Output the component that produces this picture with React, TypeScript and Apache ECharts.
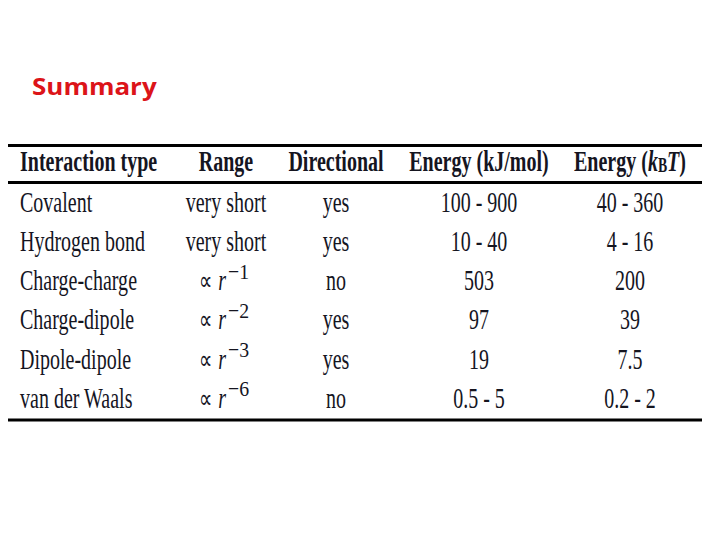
import React, { useEffect, useRef } from "react";
import * as echarts from "echarts";

const title = "Summary";
const headers = ["Interaction type", "Range", "Directional", "Energy (kJ/mol)", "Energy (kBT)"];
const interactionTypes = ["Covalent", "Hydrogen bond", "Charge-charge", "Charge-dipole", "Dipole-dipole", "van der Waals"];
const ranges = ["very short", "very short", "r^\u22121", "r^\u22122", "r^\u22123", "r^\u22126"];
const directional = ["yes", "yes", "no", "yes", "yes", "no"];
const energyKJ = ["100 - 900", "10 - 40", "503", "97", "19", "0.5 - 5"];
const energyKBT = ["40 - 360", "4 - 16", "200", "39", "7.5", "0.2 - 2"];

const TEXT = "#15151f";
const SERIF = "'Liberation Serif', 'DejaVu Serif', serif";
const FS = 29;
const SX = 0.69;
const COL_X = [20, 226, 336, 479, 630];
const HEADER_Y = 161.5;
const ROW_Y0 = 202;
const ROW_DY = 39.2;
const LINE_X1 = 8;
const LINE_X2 = 702;

function txt(x: number, y: number, text: string, opts: any = {}) {
  const align = opts.align || "center";
  return {
    type: "text",
    x,
    y,
    scaleX: opts.scaleX ?? SX,
    style: {
      text,
      fill: opts.fill || TEXT,
      fontFamily: opts.fontFamily || SERIF,
      fontSize: opts.fontSize || FS,
      fontWeight: opts.fontWeight || "normal",
      fontStyle: opts.fontStyle || "normal",
      textAlign: align,
      align,
      textVerticalAlign: "middle",
      verticalAlign: "middle",
      rich: opts.rich,
    },
  };
}

export default function App() {
  const ref = useRef<HTMLDivElement>(null);
  useEffect(() => {
    if (!ref.current) return;
    const chart = echarts.init(ref.current, null, { renderer: "svg" });
    const els: any[] = [];
    // title
    els.push(
      txt(32, 86, title, {
        align: "left",
        fill: "#dc1419",
        fontFamily: "'Open Sans', 'Liberation Sans', sans-serif",
        fontSize: 23,
        fontWeight: "bold",
        scaleX: 1.13,
      })
    );
    // rules
    const rule = (y: number) => ({
      type: "line",
      shape: { x1: LINE_X1, y1: y, x2: LINE_X2, y2: y },
      style: { stroke: "#000", lineWidth: 3 },
    });
    els.push(rule(145.5), rule(182.5), rule(420));
    // headers
    headers.forEach((h, i) => {
      if (h === "Energy (kBT)") {
        els.push(
          txt(COL_X[i], HEADER_Y, "{n|Energy (}{i|k}{s|B}{i|T}{n|)}", {
            fontWeight: "bold",
            rich: {
              n: { fontFamily: SERIF, fontSize: FS, fontWeight: "bold", fill: TEXT },
              i: { fontFamily: SERIF, fontSize: FS, fontWeight: "bold", fontStyle: "italic", fill: TEXT },
              s: { fontFamily: SERIF, fontSize: 20, fontWeight: "bold", fill: TEXT, verticalAlign: "bottom" },
            },
          })
        );
      } else {
        els.push(txt(COL_X[i], HEADER_Y, h, { align: i === 0 ? "left" : "center", fontWeight: "bold" }));
      }
    });
    // rows
    interactionTypes.forEach((name, r) => {
      const y = ROW_Y0 + r * ROW_DY;
      els.push(txt(COL_X[0], y, name, { align: "left" }));
      const rg = ranges[r];
      if (rg.includes("^")) {
        const [base, exp] = rg.split("^");
        els.push(
          txt(COL_X[1], y, "{p|\u221D }{r|" + base + "}", {
            align: "right",
            rich: {
              p: { fontFamily: "'DejaVu Sans', 'DejaVu Serif', serif", fontSize: 27, fill: TEXT },
              r: { fontFamily: SERIF, fontSize: FS, fontStyle: "italic", fill: TEXT },
            },
          })
        );
        els.push(txt(COL_X[1] + 2, y - 9, exp, { align: "left", fontSize: 22, scaleX: 0.9 }));
      } else {
        els.push(txt(COL_X[1], y, rg));
      }
      els.push(txt(COL_X[2], y, directional[r]));
      els.push(txt(COL_X[3], y, energyKJ[r]));
      els.push(txt(COL_X[4], y, energyKBT[r]));
    });

    chart.setOption({
      animation: false,
      backgroundColor: "#ffffff",
      graphic: { elements: els },
    });
    return () => chart.dispose();
  }, []);
  return (
    <div
      ref={ref}
      style={{ position: "fixed", left: 0, top: 0, width: 720, height: 540, background: "#fff" }}
    />
  );
}
